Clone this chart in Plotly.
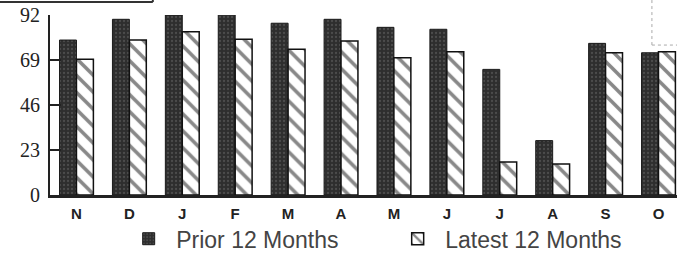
import plotly.graph_objects as go

months = ["N", "D", "J", "F", "M", "A", "M", "J", "J", "A", "S", "O"]
prior = [79.2, 89.8, 92.0, 93.2, 87.8, 89.8, 85.7, 84.7, 64.2, 27.8, 77.5, 72.7]
latest = [69.4, 79.2, 83.5, 79.6, 74.5, 78.7, 70.2, 73.2, 16.9, 15.8, 72.7, 73.2]
y_ticks = [0, 23, 46, 69, 92]

x_idx = list(range(len(months)))

fig = go.Figure()
fig.add_trace(go.Bar(
    x=x_idx, y=prior, name="Prior 12 Months",
    marker=dict(color="#2e2e2e",
                line=dict(color="#1a1a1a", width=1),
                pattern=dict(shape=".", fgcolor="#6a6a6a", bgcolor="#2e2e2e",
                             size=4, solidity=0.25)),
    cliponaxis=False,
))
fig.add_trace(go.Bar(
    x=x_idx, y=latest, name="Latest 12 Months",
    marker=dict(color="white",
                line=dict(color="#111", width=1.5),
                pattern=dict(shape="\\", fgcolor="#111", bgcolor="white",
                             size=12, solidity=0.3)),
    cliponaxis=False,
))

fig.update_layout(
    width=677, height=254,
    margin=dict(l=50, r=0, t=15, b=59, autoexpand=False),
    paper_bgcolor="white", plot_bgcolor="white",
    barmode="group", bargap=0.36, bargroupgap=0.0,
    showlegend=True,
    legend=dict(orientation="h", xref="container", yref="container",
                x=0.179, xanchor="left", y=0.06, yanchor="middle",
                font=dict(family="Liberation Sans, Arial", size=23, color="#444"),
                itemwidth=45, entrywidth=209, traceorder="normal",
                bgcolor="rgba(0,0,0,0)"),
    xaxis=dict(
        tickmode="array", tickvals=x_idx, ticktext=months,
        range=[-0.5, 11.35], automargin=False,
        showline=True, linecolor="#222", linewidth=3,
        ticks="", showgrid=False, zeroline=False, ticklabelstandoff=3,
        tickfont=dict(family="Liberation Sans, Arial", size=15, color="#222", weight="bold"),
    ),
    yaxis=dict(
        tickmode="array", tickvals=y_ticks, ticktext=[str(v) for v in y_ticks],
        range=[0, 92], automargin=False, ticklabeloverflow="allow",
        showline=True, linecolor="#222", linewidth=2,
        ticks="inside", ticklen=11, tickwidth=2, tickcolor="#222",
        showgrid=False, zeroline=False,
        tickfont=dict(family="Liberation Serif, Times New Roman", size=20, color="#222"),
        ticklabelstandoff=4,
    ),
    shapes=[
        dict(type="line", xref="paper", yref="paper", x0=-0.08, x1=0.164, y0=1.072, y1=1.072,
             line=dict(color="#333", width=2)),
        dict(type="line", xref="paper", yref="paper", x0=0.164, x1=0.164, y0=1.072, y1=1.09,
             line=dict(color="#333", width=2)),
        dict(type="line", xref="paper", yref="paper", x0=0.96, x1=0.96, y0=0.833, y1=1.09,
             line=dict(color="#aaa", width=1, dash="dot")),
        dict(type="line", xref="paper", yref="paper", x0=0.96, x1=1.0, y0=0.833, y1=0.833,
             line=dict(color="#aaa", width=1, dash="dot")),
    ],
)

# remove the default 8px page margin so the figure sits at the window's top-left corner
fig.write_html("out.html", config={"displayModeBar": False},
               post_script="document.body.style.margin='0';")
